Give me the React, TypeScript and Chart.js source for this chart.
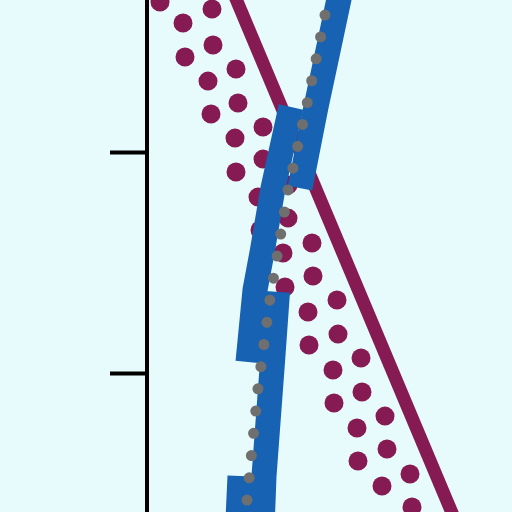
import React, { useEffect, useRef } from "react";
import { Chart, registerables } from "chart.js";

Chart.register(...registerables);

// Axis setup
const xRange = [0, 36.5];
const yRange = [3.71, 26.88];
const yTickValues = [10, 20];

// Maroon solid line
const solidLineX = [8.0, 31.4];
const solidLineY = [27.9, 2.7];

// Maroon dotted band: two rows of large dots
const dotsLeftX = [1.3, 3.6, 3.8, 6.1, 6.4, 8.8, 8.9, 11.1, 11.3, 13.6, 13.8, 16.1, 16.2, 18.6, 18.7, 21.0, 21.1, 23.5];
const dotsLeftY = [26.79, 25.84, 24.3, 23.21, 21.72, 20.63, 19.1, 17.96, 16.47, 15.43, 13.89, 12.76, 11.27, 10.14, 8.64, 7.51, 6.02, 4.89];
const dotsRightX = [6.5, 6.6, 8.9, 9.1, 11.6, 11.6, 14.1, 14.1, 16.5, 16.6, 19.0, 19.1, 21.4, 21.5, 23.8, 24.0, 26.3, 26.5];
const dotsRightY = [26.47, 24.84, 23.76, 22.22, 21.13, 19.68, 18.51, 17.01, 15.88, 14.39, 13.3, 11.76, 10.68, 9.14, 8.05, 6.56, 5.43, 3.94];

// Gray dotted line
const grayX = [17.8, 16.0, 14.1, 12.3, 11.1, 10.0, 9.7];
const grayY = [26.2, 22.17, 18.28, 13.35, 9.32, 4.25, 2.44];

// Blue band: two strands, null = break
const blueRightX = [19.6, 17.9, 16.9, 15.3, 14.3, 13.05, 12.55, 11.7, 11.5];
const blueRightY = [27.78, 24.16, 22.04, 18.37, null, 13.67, 10.5, 5.34, 2.9];
const blueLeftX = [14.4, 12.6, 11.55, 10.8, 10.1, 9.7, 9.3, 9.0];
const blueLeftY = [22.04, 18.37, 15.57, 13.76, 10.5, null, 5.34, 2.44];

const MAROON = "#861a52";
const BLUE = "#1762b3";
const GRAY = "#6f6f6f";
const BG = "#e8fbfc";

function zip(xs: number[], ys: (number | null)[]) {
  return xs.map((x, i) => ({ x, y: ys[i] }));
}

export default function App() {
  const ref = useRef<HTMLCanvasElement | null>(null);

  useEffect(() => {
    if (!ref.current) return;
    const dotStyle = {
      showLine: false,
      pointRadius: 9.5,
      pointHoverRadius: 9.5,
      pointBackgroundColor: MAROON,
      pointBorderWidth: 0,
      borderColor: MAROON,
      order: 2,
    };
    const chart = new Chart(ref.current, {
      type: "line",
      data: {
        datasets: [
          {
            label: "gray",
            data: zip(grayX, grayY),
            borderColor: GRAY,
            borderWidth: 11,
            borderDash: [0, 22.35],
            borderCapStyle: "round",
            pointRadius: 0,
            tension: 0,
            order: 0,
          },
          {
            label: "blueR",
            data: zip(blueRightX, blueRightY),
            borderColor: BLUE,
            borderWidth: 25,
            borderCapStyle: "butt",
            borderJoinStyle: "miter",
            pointRadius: 0,
            tension: 0,
            spanGaps: false,
            order: 1,
          },
          {
            label: "blueL",
            data: zip(blueLeftX, blueLeftY),
            borderColor: BLUE,
            borderWidth: 25,
            borderCapStyle: "butt",
            borderJoinStyle: "miter",
            pointRadius: 0,
            tension: 0,
            spanGaps: false,
            order: 1,
          },
          {
            label: "solid",
            data: zip(solidLineX, solidLineY),
            borderColor: MAROON,
            borderWidth: 13,
            pointRadius: 0,
            tension: 0,
            order: 2,
          },
          { label: "dotsL", data: zip(dotsLeftX, dotsLeftY), ...dotStyle },
          { label: "dotsR", data: zip(dotsRightX, dotsRightY), ...dotStyle },
        ],
      },
      options: {
        responsive: false,
        animation: false,
        devicePixelRatio: 1,
        layout: { autoPadding: false, padding: { left: 110, top: 0, right: 0, bottom: 0 } },
        plugins: { legend: { display: false }, tooltip: { enabled: false } },
        scales: {
          x: {
            type: "linear",
            display: false,
            min: xRange[0],
            max: xRange[1],
          },
          y: {
            type: "linear",
            min: yRange[0],
            max: yRange[1],
            afterBuildTicks: (axis: any) => {
              axis.ticks = yTickValues.map((v) => ({ value: v }));
            },
            ticks: { display: false },
            grid: {
              drawOnChartArea: false,
              drawTicks: true,
              tickLength: 37,
              tickWidth: 4,
              tickColor: "#000",
            },
            border: { display: true, color: "#000", width: 4 },
          },
        },
      },
    });
    return () => chart.destroy();
  }, []);

  return (
    <div
      style={{
        position: "fixed",
        left: 0,
        top: 0,
        width: 512,
        height: 512,
        background: BG,
      }}
    >
      <canvas ref={ref} width={512} height={512} style={{ display: "block" }} />
    </div>
  );
}
